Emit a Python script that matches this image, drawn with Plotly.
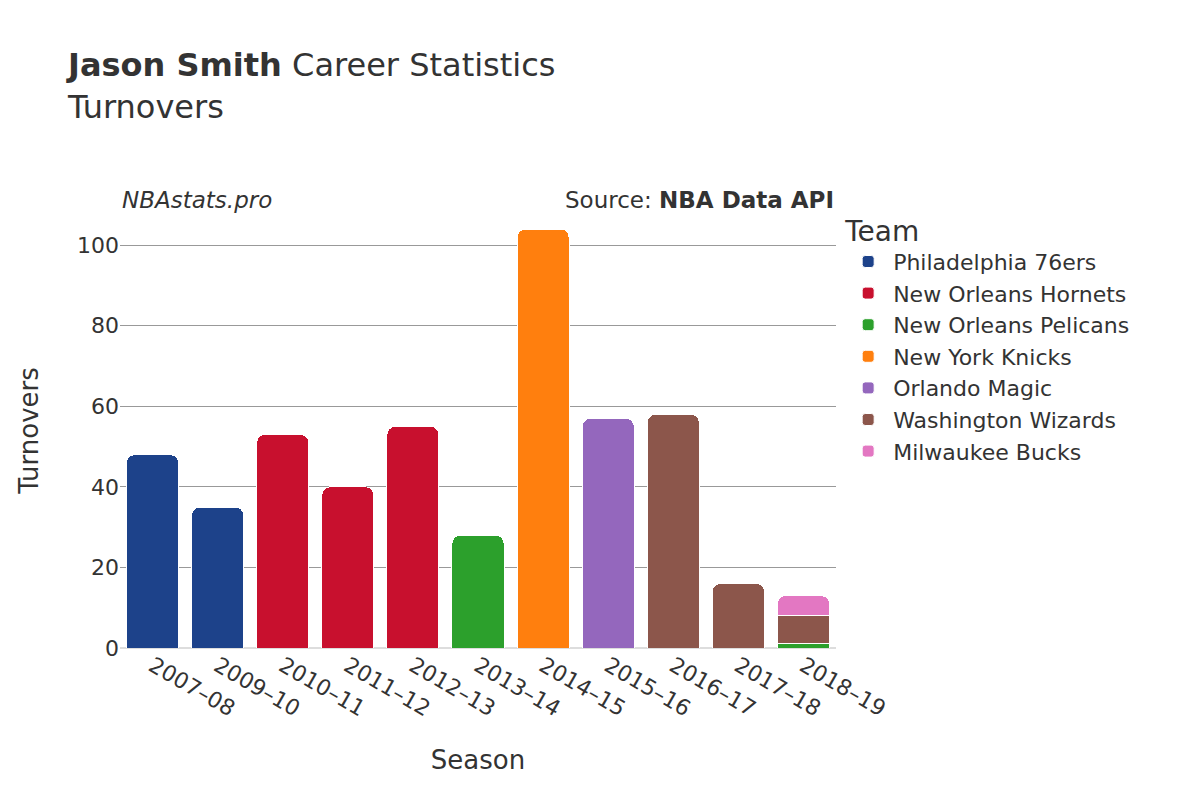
import plotly.graph_objects as go

seasons = ["2007–08","2009–10","2010–11","2011–12","2012–13","2013–14","2014–15","2015–16","2016–17","2017–18","2018–19"]
teams = ["Philadelphia 76ers","New Orleans Hornets","New Orleans Pelicans","New York Knicks","Orlando Magic","Washington Wizards","Milwaukee Bucks"]
colors = ["#1d428a","#c8102e","#2ca02c","#ff7f0e","#9467bd","#8c564b","#e377c2"]
values = {
    "Philadelphia 76ers": [48,35,None,None,None,None,None,None,None,None,None],
    "New Orleans Hornets": [None,None,53,40,55,None,None,None,None,None,None],
    "New Orleans Pelicans": [None,None,None,None,None,28,None,None,None,None,1],
    "New York Knicks": [None,None,None,None,None,None,104,None,None,None,None],
    "Orlando Magic": [None,None,None,None,None,None,None,57,None,None,None],
    "Washington Wizards": [None,None,None,None,None,None,None,None,58,16,7],
    "Milwaukee Bucks": [None,None,None,None,None,None,None,None,None,None,5],
}

fig = go.Figure()
for t, c in zip(teams, colors):
    fig.add_bar(x=seasons, y=values[t], name=t, marker=dict(color=c, line=dict(color="white", width=1)))

fig.update_layout(
    width=1200, height=800, barmode="stack", barcornerradius=8, bargap=0.2,
    plot_bgcolor="white", paper_bgcolor="white",
    font=dict(family="DejaVu Sans", size=22, color="#333"),
    title=dict(text="<b>Jason Smith</b> Career Statistics<br>Turnovers", x=0.05, y=0.915, yanchor="top", font=dict(size=32)),
    margin=dict(l=112, r=372, t=205, b=160),
    xaxis=dict(title=dict(text="Season", font=dict(size=26), standoff=30), tickangle=30),
    yaxis=dict(title=dict(text="Turnovers", font=dict(size=26), standoff=30), gridcolor="#999", dtick=20, range=[0, 108], zeroline=True, zerolinecolor="#ddd", zerolinewidth=2),
    legend=dict(title=dict(text="Team", font=dict(size=28)), traceorder="normal", x=1.01, y=1.02, yanchor="top", font=dict(size=22), itemwidth=40),
    annotations=[
        dict(text="<i>NBAstats.pro</i>", xref="paper", yref="paper", x=0, y=1.03, yanchor="middle", showarrow=False, xanchor="left", font=dict(size=23)),
        dict(text="Source: <b>NBA Data API</b>", xref="paper", yref="paper", x=1, y=1.03, yanchor="middle", showarrow=False, xanchor="right", font=dict(size=23)),
    ],
)
fig.write_html("out.html")
